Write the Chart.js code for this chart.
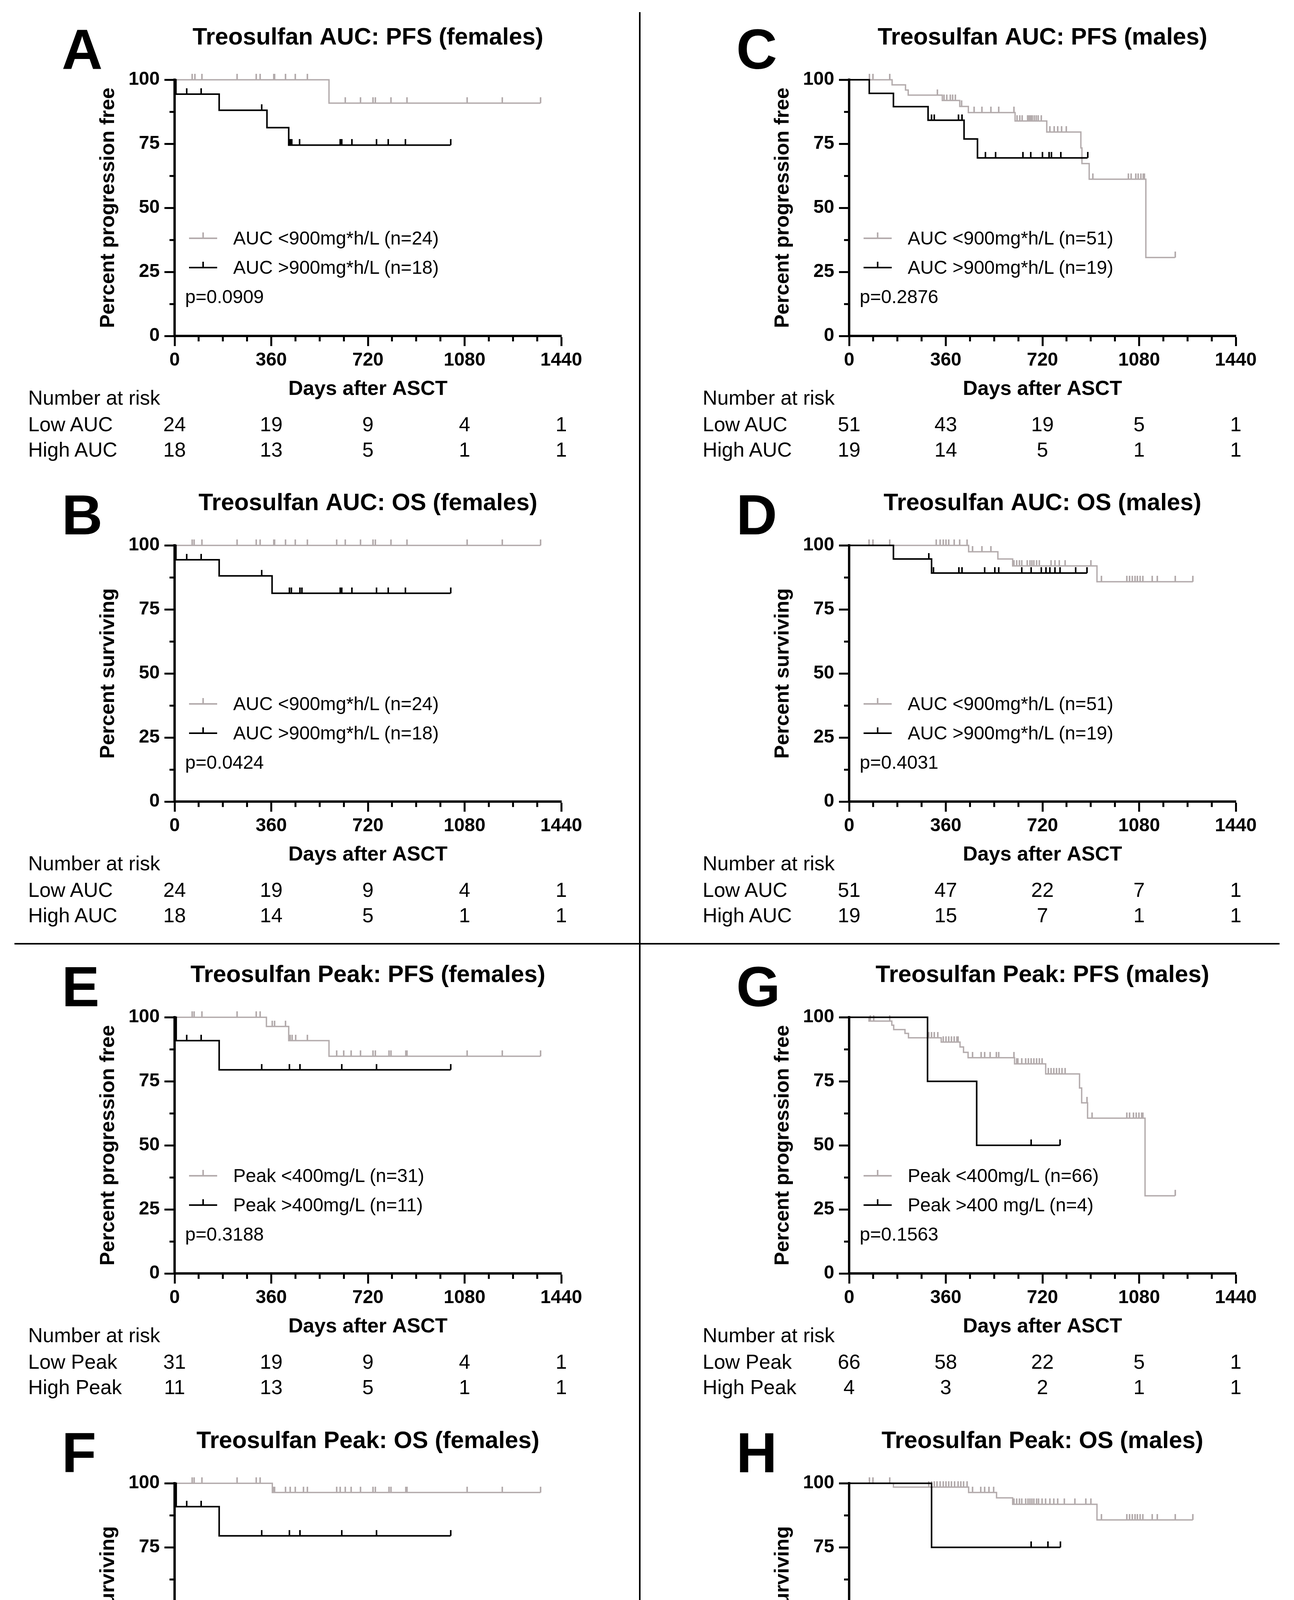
<!DOCTYPE html>
<html><head><meta charset="utf-8">
<script src="https://cdn.jsdelivr.net/npm/chart.js@4.4.1/dist/chart.umd.min.js"></script>
<style>
html,body{margin:0;padding:0;background:#fff;}
body{width:3313px;height:4850px;position:relative;overflow:hidden;font-family:"Liberation Sans",Arial,Helvetica,sans-serif;color:#000;}
.abs{position:absolute;white-space:nowrap;}
</style></head><body>
<script>
// ---------- DATA (days after ASCT, percent) ----------
// step times / levels of each Kaplan-Meier curve, and censor times
const A_low_t = [0, 575];
const A_low_s = [100, 90.9];
const A_low_c = [65, 75, 102, 233, 304, 319, 369, 373, 413, 450, 494, 635, 693, 739, 747, 806, 865, 1090, 1221, 1363];
const A_high_t = [0, 5, 166, 344, 425];
const A_high_s = [100, 94.4, 88.1, 81.3, 74.5];
const A_high_c = [45, 99, 324, 430, 436, 465, 616, 622, 660, 752, 796, 860, 1028];

const B_low_t = [0];
const B_low_s = [100];
const B_low_c = [65, 72, 102, 233, 304, 319, 369, 373, 413, 450, 494, 603, 635, 693, 739, 747, 806, 865, 1090, 1221, 1363];
const B_high_t = [0, 5, 166, 363];
const B_high_s = [100, 94.4, 88.1, 81.3];
const B_high_c = [45, 99, 324, 428, 435, 467, 474, 616, 622, 660, 752, 796, 860, 1028];

const C_low_t = [0, 160, 210, 220, 347, 412, 444, 618, 736, 863, 867, 894, 1105];
const C_low_s = [100, 98.0, 96.0, 94.0, 91.9, 89.6, 87.2, 83.9, 79.6, 73.4, 67.3, 61.2, 30.6];
const C_low_c = [75, 89, 151, 328, 353, 364, 376, 385, 395, 419, 466, 494, 528, 557, 614, 625, 635, 644, 664, 670, 676, 682, 689, 697, 704, 715, 748, 763, 777, 791, 808, 908, 1040, 1050, 1067, 1076, 1086, 1095, 1100, 1214];
const C_high_t = [0, 75, 165, 294, 428, 478];
const C_high_s = [100, 94.7, 89.5, 84.2, 76.9, 69.5];
const C_high_c = [307, 317, 407, 421, 507, 545, 647, 677, 720, 744, 753, 789, 888];

const D_low_t = [0, 445, 554, 609, 923];
const D_low_s = [100, 97.5, 94.7, 92.0, 85.8];
const D_low_c = [74, 89, 151, 324, 339, 351, 361, 371, 391, 411, 439, 460, 495, 528, 614, 624, 634, 643, 663, 673, 680, 688, 698, 708, 752, 767, 782, 805, 901, 940, 1034, 1044, 1054, 1064, 1074, 1084, 1094, 1128, 1148, 1214, 1280];
const D_high_t = [0, 165, 307];
const D_high_s = [100, 94.7, 89.2];
const D_high_c = [297, 314, 409, 421, 505, 542, 557, 643, 678, 716, 733, 747, 767, 785, 843, 886];

const E_low_t = [0, 342, 425, 575];
const E_low_s = [100, 96.4, 90.9, 84.8];
const E_low_c = [65, 72, 102, 233, 304, 319, 364, 373, 413, 431, 438, 451, 494, 603, 630, 658, 692, 739, 747, 798, 806, 861, 865, 1090, 1221, 1363];
const E_high_t = [0, 6, 166];
const E_high_s = [100, 90.9, 79.5];
const E_high_c = [45, 99, 324, 428, 467, 622, 752, 1028];

const F_low_t = [0, 364];
const F_low_s = [100, 96.4];
const F_low_c = [65, 72, 102, 233, 304, 319, 368, 373, 413, 431, 450, 480, 494, 603, 616, 635, 658, 692, 739, 747, 798, 806, 861, 865, 1090, 1221, 1363];
const F_high_t = [0, 6, 166];
const F_high_s = [100, 90.9, 79.5];
const F_high_c = [45, 99, 324, 428, 467, 622, 752, 1028];

const G_low_t = [0, 74, 159, 166, 208, 221, 343, 413, 426, 443, 616, 732, 858, 866, 888, 1102];
const G_low_s = [100, 98.5, 96.9, 95.2, 93.7, 92.0, 90.3, 88.4, 86.3, 84.2, 81.8, 77.9, 72.4, 66.6, 60.6, 30.3];
const G_low_c = [79, 92, 151, 297, 307, 317, 330, 351, 361, 371, 381, 391, 401, 406, 460, 492, 505, 525, 549, 557, 614, 624, 628, 643, 658, 668, 678, 688, 698, 708, 718, 742, 752, 762, 772, 782, 792, 805, 886, 904, 1034, 1044, 1059, 1069, 1079, 1089, 1094, 1214];
const G_high_t = [0, 292, 475];
const G_high_s = [100, 75, 50];
const G_high_c = [678, 785];

const H_low_t = [0, 165, 445, 549, 609, 923];
const H_low_s = [100, 98.5, 96.4, 94.3, 91.8, 85.7];
const H_low_c = [76, 89, 151, 297, 307, 317, 327, 339, 351, 361, 371, 381, 393, 406, 416, 426, 439, 460, 490, 505, 520, 538, 614, 624, 634, 643, 658, 666, 673, 680, 688, 698, 706, 718, 732, 747, 762, 777, 802, 841, 881, 901, 940, 1034, 1044, 1054, 1064, 1074, 1084, 1094, 1128, 1148, 1214, 1280];
const H_high_t = [0, 307];
const H_high_s = [100, 75];
const H_high_c = [678, 740, 787];

// number at risk
const riskDays = [0, 360, 720, 1080, 1440];
const A_risk_low = [24, 19, 9, 4, 1];   const A_risk_high = [18, 13, 5, 1, 1];
const B_risk_low = [24, 19, 9, 4, 1];   const B_risk_high = [18, 14, 5, 1, 1];
const C_risk_low = [51, 43, 19, 5, 1];  const C_risk_high = [19, 14, 5, 1, 1];
const D_risk_low = [51, 47, 22, 7, 1];  const D_risk_high = [19, 15, 7, 1, 1];
const E_risk_low = [31, 19, 9, 4, 1];   const E_risk_high = [11, 13, 5, 1, 1];
const F_risk_low = [31, 26, 11, 4, 1];  const F_risk_high = [11, 7, 3, 1, 1];
const G_risk_low = [66, 58, 22, 5, 1];  const G_risk_high = [4, 3, 2, 1, 1];
const H_risk_low = [66, 58, 26, 7, 1];  const H_risk_high = [4, 4, 3, 1, 1];

// tick values
const xMax = 1440, xStep = 90, xLabelStep = 360;
const yMax = 100, yStep = 12.5, yLabelStep = 25;

// ---------- LAYOUT ----------
const FONT = '"Liberation Sans", Arial, Helvetica, sans-serif';
const GRAY = '#b4acad';
const COL_LEFT = [447, 2174];
const COL_TEXT = [72, 1799];
const ROW_TOP = [204, 1396, 2604, 3797];
const PLOT_H = 655;
const CW = 1290, CH = 987;

Chart.defaults.font.family = FONT;
Chart.defaults.color = '#000';

function txt(str, x, y, size, weight, align) {
  const d = document.createElement('div');
  d.className = 'abs';
  d.textContent = str;
  d.style.font = weight + ' ' + size + 'px ' + FONT;
  d.style.lineHeight = size + 'px';
  d.style.top = (y - size * 0.49) + 'px';
  d.style.left = x + 'px';
  if (align === 'center') d.style.transform = 'translateX(-50%)';
  document.body.appendChild(d);
  return d;
}
function box(x, y, w, h, color) {
  const d = document.createElement('div');
  d.className = 'abs';
  d.style.cssText += `left:${x}px;top:${y}px;width:${w}px;height:${h}px;background:${color};`;
  document.body.appendChild(d);
}
function tickImg(color) {
  const cv = document.createElement('canvas');
  cv.width = 4; cv.height = 30;
  const g = cv.getContext('2d');
  g.fillStyle = color; g.fillRect(0, 0, 4, 15);
  return cv;
}
const tickGray = tickImg(GRAY), tickBlack = tickImg('#000');

function buildPoints(t, s, c) {
  const pts = t.map((x, i) => ({x: x, y: s[i], c: 0}));
  const level = x => { let v = s[0]; for (let i = 0; i < t.length; i++) if (t[i] <= x) v = s[i]; return v; };
  c.forEach(x => pts.push({x: x, y: level(x), c: 1}));
  pts.sort((a, b) => a.x - b.x || a.c - b.c);
  return pts;
}

function dataset(t, s, c, color, width, img) {
  return {
    data: buildPoints(t, s, c),
    borderColor: color, backgroundColor: color, borderWidth: width,
    stepped: 'before', fill: false, clip: false, tension: 0,
    pointRadius: ctx => (ctx.raw && ctx.raw.c ? 2 : 0),
    pointStyle: ctx => (ctx.raw && ctx.raw.c ? img : 'circle'),
    pointBorderWidth: 0, pointHoverRadius: 0
  };
}

function makePanel(p) {
  const L = COL_LEFT[p.col], T = ROW_TOP[p.row];
  const wrap = document.createElement('div');
  wrap.className = 'abs';
  wrap.style.left = (L - 230) + 'px'; wrap.style.top = (T - 153) + 'px';
  wrap.style.width = CW + 'px'; wrap.style.height = CH + 'px';
  const cv = document.createElement('canvas');
  cv.width = CW; cv.height = CH; cv.style.width = CW + 'px'; cv.style.height = CH + 'px';
  wrap.appendChild(cv); document.body.appendChild(wrap);

  const chart = new Chart(cv.getContext('2d'), {
    type: 'line',
    data: {datasets: [
      dataset(p.high[0], p.high[1], p.high[2], '#000', 4, tickBlack),
      dataset(p.low[0], p.low[1], p.low[2], GRAY, 3.5, tickGray)
    ]},
    options: {
      responsive: false, animation: false, devicePixelRatio: 1, events: [],
      layout: {padding: {left: 10, right: 70, top: 0, bottom: 10}},
      plugins: {
        legend: {display: false}, tooltip: {enabled: false},
        title: {display: true, text: p.title, fullSize: false, color: '#000',
                font: {size: 61, weight: 'bold', family: FONT}, padding: {top: 10, bottom: 70}}
      },
      scales: {
        x: {
          type: 'linear', min: 0, max: xMax,
          ticks: {stepSize: xStep, autoSkip: false, maxRotation: 0, minRotation: 0, padding: 8, color: '#000',
                  font: {size: 48, weight: 'bold', family: FONT},
                  callback: v => (v % xLabelStep === 0 ? String(v) : '')},
          grid: {display: true, drawOnChartArea: false, drawTicks: true, tickLength: 26, tickWidth: 5, tickColor: '#000',
                 tickBorderDash: ctx => (ctx.tick && ctx.tick.value % xLabelStep !== 0 ? [11, 100] : [])},
          border: {display: true, color: '#000', width: 6},
          title: {display: true, text: 'Days after ASCT', color: '#000', font: {size: 52, weight: 'bold', family: FONT}, padding: {top: 14, bottom: 0}},
          afterFit: s => { s.height = 168; }
        },
        y: {
          type: 'linear', min: 0, max: yMax,
          ticks: {stepSize: yStep, autoSkip: false, padding: 12, color: '#000',
                  font: {size: 48, weight: 'bold', family: FONT},
                  callback: v => (v % yLabelStep === 0 ? String(v) : '')},
          grid: {display: true, drawOnChartArea: false, drawTicks: true, tickLength: 26, tickWidth: 5, tickColor: '#000',
                 tickBorderDash: ctx => (ctx.tick && ctx.tick.value % yLabelStep !== 0 ? [0, 13, 10, 100] : [])},
          border: {display: true, color: '#000', width: 6},
          title: {display: true, text: p.ytitle, color: '#000', font: {size: 52, weight: 'bold', family: FONT}, padding: {top: 19, bottom: 0}},
          afterFit: s => { s.width = 220; }
        }
      }
    }
  });

  // align the chart area with the target position
  const ca = chart.chartArea;
  const ox = L - ca.left, oy = T - ca.top;
  wrap.style.left = ox + 'px'; wrap.style.top = oy + 'px';
  const B = oy + ca.bottom;
  const xs = chart.scales.x;

  // panel letter
  txt(p.id, L - 289, T - 79, 145, 'bold', 'left');

  // legend + p value
  const rows = [[GRAY, p.leg[0], T + 406], ['#000', p.leg[1], T + 481]];
  rows.forEach(r => {
    box(L + 37, r[2] - 2, 72, 4, r[0]);
    box(L + 71, r[2] - 15, 4, 14, r[0]);
    txt(r[1], L + 150, r[2], 48, 'normal', 'left');
  });
  txt(p.p, L + 27, T + 556, 48, 'normal', 'left');

  // number at risk
  const tx = COL_TEXT[p.col];
  txt('Number at risk', tx, B + 158, 52, 'normal', 'left');
  txt(p.riskLabels[0], tx, B + 226, 52, 'normal', 'left');
  txt(p.riskLabels[1], tx, B + 291, 52, 'normal', 'left');
  riskDays.forEach((d, i) => {
    const px = ox + xs.getPixelForValue(d);
    txt(String(p.riskLow[i]), px, B + 226, 52, 'normal', 'center');
    txt(String(p.riskHigh[i]), px, B + 291, 52, 'normal', 'center');
  });
}

const panels = [
  {id: 'A', col: 0, row: 0, title: 'Treosulfan AUC: PFS (females)', ytitle: 'Percent progression free',
   low: [A_low_t, A_low_s, A_low_c], high: [A_high_t, A_high_s, A_high_c],
   leg: ['AUC <900mg*h/L (n=24)', 'AUC >900mg*h/L (n=18)'], p: 'p=0.0909',
   riskLabels: ['Low AUC', 'High AUC'], riskLow: A_risk_low, riskHigh: A_risk_high},
  {id: 'B', col: 0, row: 1, title: 'Treosulfan AUC: OS (females)', ytitle: 'Percent surviving',
   low: [B_low_t, B_low_s, B_low_c], high: [B_high_t, B_high_s, B_high_c],
   leg: ['AUC <900mg*h/L (n=24)', 'AUC >900mg*h/L (n=18)'], p: 'p=0.0424',
   riskLabels: ['Low AUC', 'High AUC'], riskLow: B_risk_low, riskHigh: B_risk_high},
  {id: 'C', col: 1, row: 0, title: 'Treosulfan AUC: PFS (males)', ytitle: 'Percent progression free',
   low: [C_low_t, C_low_s, C_low_c], high: [C_high_t, C_high_s, C_high_c],
   leg: ['AUC <900mg*h/L (n=51)', 'AUC >900mg*h/L (n=19)'], p: 'p=0.2876',
   riskLabels: ['Low AUC', 'High AUC'], riskLow: C_risk_low, riskHigh: C_risk_high},
  {id: 'D', col: 1, row: 1, title: 'Treosulfan AUC: OS (males)', ytitle: 'Percent surviving',
   low: [D_low_t, D_low_s, D_low_c], high: [D_high_t, D_high_s, D_high_c],
   leg: ['AUC <900mg*h/L (n=51)', 'AUC >900mg*h/L (n=19)'], p: 'p=0.4031',
   riskLabels: ['Low AUC', 'High AUC'], riskLow: D_risk_low, riskHigh: D_risk_high},
  {id: 'E', col: 0, row: 2, title: 'Treosulfan Peak: PFS (females)', ytitle: 'Percent progression free',
   low: [E_low_t, E_low_s, E_low_c], high: [E_high_t, E_high_s, E_high_c],
   leg: ['Peak <400mg/L (n=31)', 'Peak >400mg/L (n=11)'], p: 'p=0.3188',
   riskLabels: ['Low Peak', 'High Peak'], riskLow: E_risk_low, riskHigh: E_risk_high},
  {id: 'F', col: 0, row: 3, title: 'Treosulfan Peak: OS (females)', ytitle: 'Percent surviving',
   low: [F_low_t, F_low_s, F_low_c], high: [F_high_t, F_high_s, F_high_c],
   leg: ['Peak <400mg/L (n=31)', 'Peak >400mg/L (n=11)'], p: 'p=0.0673',
   riskLabels: ['Low Peak', 'High High'], riskLow: F_risk_low, riskHigh: F_risk_high},
  {id: 'G', col: 1, row: 2, title: 'Treosulfan Peak: PFS (males)', ytitle: 'Percent progression free',
   low: [G_low_t, G_low_s, G_low_c], high: [G_high_t, G_high_s, G_high_c],
   leg: ['Peak <400mg/L (n=66)', 'Peak >400 mg/L (n=4)'], p: 'p=0.1563',
   riskLabels: ['Low Peak', 'High Peak'], riskLow: G_risk_low, riskHigh: G_risk_high},
  {id: 'H', col: 1, row: 3, title: 'Treosulfan Peak: OS (males)', ytitle: 'Percent surviving',
   low: [H_low_t, H_low_s, H_low_c], high: [H_high_t, H_high_s, H_high_c],
   leg: ['Peak <400mg/L (n=66)', 'AUC >400mg/L (n=4)'], p: 'p=0.2058',
   riskLabels: ['Low Peak', 'High Peak'], riskLow: H_risk_low, riskHigh: H_risk_high}
];

// divider lines
box(1636, 31, 4, 4774, '#000');
box(37, 2414, 3239, 4, '#000');

panels.forEach(makePanel);
</script>
</body></html>
